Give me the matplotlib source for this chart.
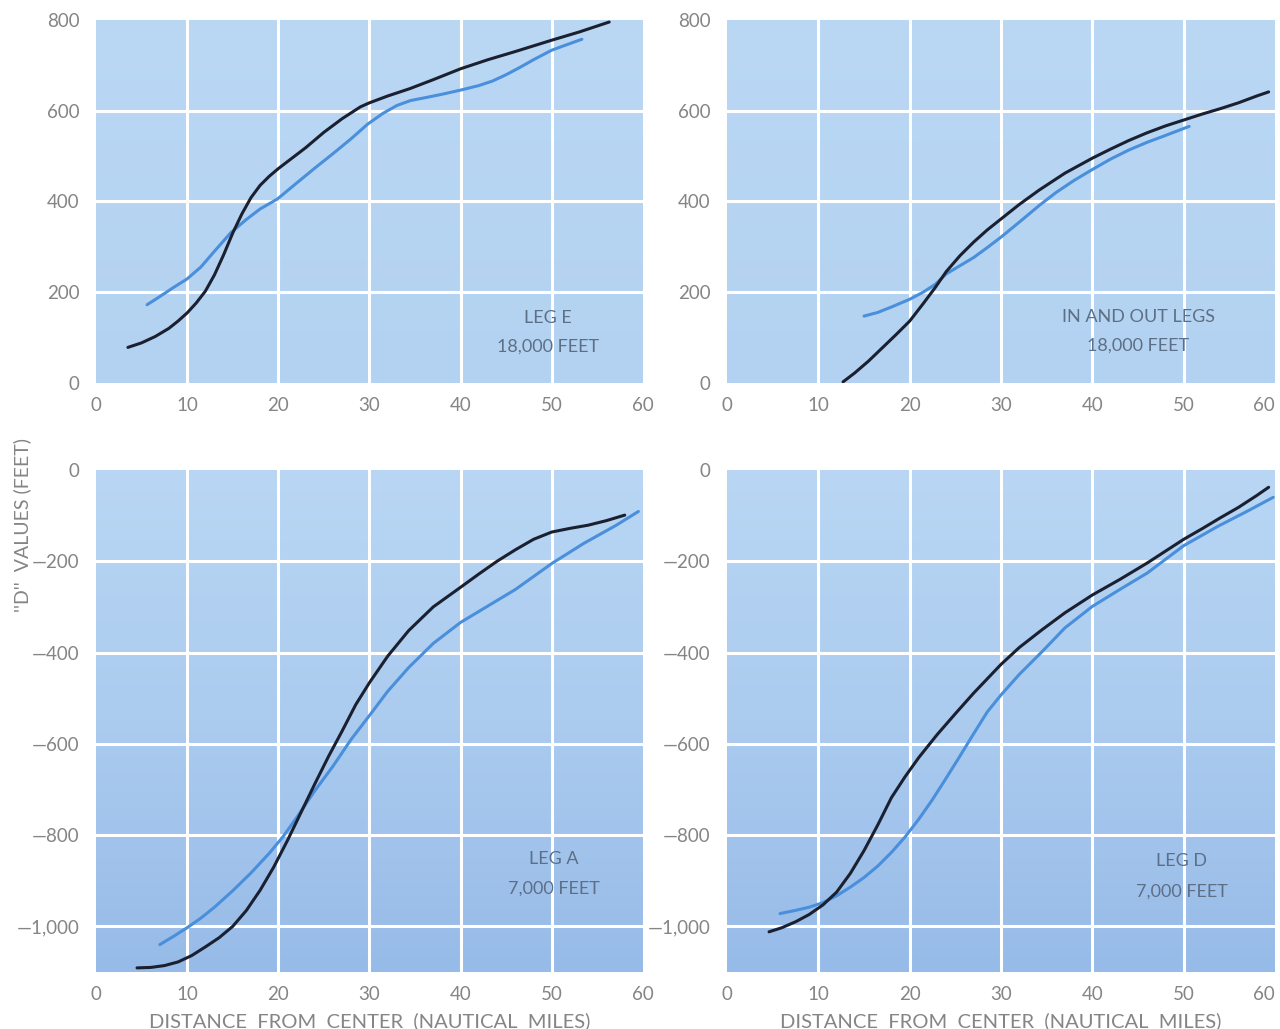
import matplotlib.pyplot as plt
import numpy as np
from matplotlib.colors import LinearSegmentedColormap

# ---- data (distance in nautical miles, D value in feet) ----
# Leg E, 18,000 ft
legE_black_x = [3.5, 5, 6.5, 8, 9, 10, 11, 12, 13, 14, 15, 16, 17, 18, 19, 20, 21.5, 23, 25, 27, 29, 30, 32, 34.4, 37, 40, 43, 46, 50, 53, 56.3]
legE_black_y = [78, 88, 102, 120, 136, 154, 176, 202, 238, 282, 330, 372, 408, 435, 455, 472, 495, 518, 552, 582, 608, 617, 632, 648, 668, 692, 712, 730, 755, 773, 795]
legE_blue_x = [5.6, 7, 8.5, 10, 11.5, 13, 14.8, 16.5, 18, 19.9, 22, 24, 26, 28, 29.8, 31.5, 33, 34.5, 36.3, 38, 40, 42, 43.5, 45, 46.5, 48, 50, 51.5, 53.3]
legE_blue_y = [172, 190, 210, 229, 255, 290, 331, 360, 383, 405, 440, 473, 505, 538, 570, 594, 611, 622, 629, 636, 645, 655, 665, 679, 695, 712, 733, 744, 757]

# In and out legs, 18,000 ft
io_black_x = [12.7, 14, 15.5, 17, 18.5, 20, 21.5, 22.8, 24, 25.5, 27, 28.5, 30, 32, 34.2, 37, 40, 42, 44, 46, 48, 50, 52, 54, 56, 58, 59.3]
io_black_y = [2, 22, 48, 77, 106, 136, 175, 210, 245, 280, 310, 337, 361, 393, 425, 462, 495, 515, 534, 551, 566, 579, 592, 604, 617, 632, 641]
io_blue_x = [15, 16.5, 18, 20, 21.5, 22.8, 24, 25.5, 27, 28.5, 30, 32, 34.2, 36, 38, 40, 42, 44, 46, 48, 50.6]
io_blue_y = [147, 155, 167, 184, 200, 217, 240, 258, 276, 298, 321, 354, 391, 419, 446, 470, 493, 513, 530, 545, 565]

# Leg A, 7,000 ft
legA_black_x = [4.5, 6, 7.5, 9, 10.5, 12, 13.5, 15, 16.5, 18, 19.5, 21, 22.5, 24, 25.5, 27, 28.5, 30, 32, 34.3, 37, 40, 42, 44, 46, 48, 50, 52, 54, 56, 58]
legA_black_y = [-1091, -1090, -1086, -1078, -1064, -1045, -1025, -1000, -965, -921, -870, -812, -750, -688, -628, -572, -514, -466, -408, -352, -300, -257, -228, -200, -175, -152, -136, -128, -121, -111, -99]
legA_blue_x = [7, 8.5, 10, 11.5, 13, 15, 17, 19, 20.5, 22, 24, 26, 28, 30, 32, 34.3, 37, 40, 43, 46, 50, 53.5, 57, 59.5]
legA_blue_y = [-1040, -1022, -1003, -982, -958, -922, -883, -840, -804, -762, -703, -649, -590, -538, -485, -433, -380, -334, -298, -262, -205, -161, -122, -91]

# Leg D, 7,000 ft
legD_black_x = [4.6, 6, 7.5, 9, 10.5, 12, 13.5, 15, 16.5, 18, 19.5, 21, 23, 25, 27, 29, 30, 32, 34.5, 37, 40, 43, 46, 48, 50, 52, 54, 56, 58, 59.3]
legD_black_y = [-1012, -1003, -990, -974, -953, -925, -884, -834, -778, -718, -672, -630, -580, -534, -489, -447, -426, -389, -350, -313, -274, -240, -204, -178, -152, -129, -105, -82, -56, -38]
legD_blue_x = [5.8, 7.5, 9, 10.5, 12, 13.5, 15, 16.5, 18, 19.5, 21, 22.5, 24, 25.5, 27, 28.5, 30, 32, 34.5, 37, 40, 43, 46, 50, 53.7, 57, 59.8]
legD_blue_y = [-972, -965, -958, -948, -933, -914, -893, -868, -838, -804, -765, -722, -675, -627, -578, -530, -493, -448, -398, -346, -299, -262, -226, -166, -124, -90, -60]

panels = [
    ("LEG E", "18,000 FEET", legE_black_x, legE_black_y, legE_blue_x, legE_blue_y),
    ("IN AND OUT LEGS", "18,000 FEET", io_black_x, io_black_y, io_blue_x, io_blue_y),
    ("LEG A", "7,000 FEET", legA_black_x, legA_black_y, legA_blue_x, legA_blue_y),
    ("LEG D", "7,000 FEET", legD_black_x, legD_black_y, legD_blue_x, legD_blue_y),
]
label_pos = [(49.6, 142, 80), (45, 144, 82), (50.2, -852, -918), (49.8, -856, -923)]

x_ticks = [0, 10, 20, 30, 40, 50, 60]
top_yticks = [0, 200, 400, 600, 800]
top_ylabels = ["0", "200", "400", "600", "800"]
bot_yticks = [0, -200, -400, -600, -800, -1000]
bot_ylabels = ["0", "\u2014200", "\u2014400", "\u2014600", "\u2014800", "\u20141,000"]

plt.rcParams['font.family'] = ['Lato', 'DejaVu Sans']
tick_color = "#858585"
black = "#1b2030"
blue = "#4a8fdb"

fig = plt.figure(figsize=(12.8, 10.29), dpi=100)
positions = [
    [0.075, 0.628, 0.4273, 0.3528],
    [0.568, 0.628, 0.4281, 0.3528],
    [0.075, 0.0554, 0.4273, 0.4879],
    [0.568, 0.0554, 0.4281, 0.4879],
]

top_cmap = LinearSegmentedColormap.from_list("bg_top", ["#bad8f4", "#b3d2f1"])
bot_cmap = LinearSegmentedColormap.from_list("bg_bot", ["#b9d7f4", "#abcbef", "#97bbe8"])

for i, (pos, pdata, lp) in enumerate(zip(positions, panels, label_pos)):
    name, alt, bx, by, ux, uy = pdata
    ax = fig.add_axes(pos)
    grad = np.linspace(0, 1, 256).reshape(-1, 1)
    ax.imshow(grad, extent=[0, 1, 0, 1], transform=ax.transAxes, aspect="auto",
              cmap=top_cmap if i < 2 else bot_cmap, origin="upper", zorder=0)
    ax.set_xlim(0, 60)
    if i < 2:
        ax.set_ylim(0, 800)
        ax.set_yticks(top_yticks)
        ax.set_yticklabels(top_ylabels)
        hlines = [200, 400, 600]
    else:
        ax.set_ylim(-1100, 0)
        ax.set_yticks(bot_yticks)
        ax.set_yticklabels(bot_ylabels)
        hlines = [-200, -400, -600, -800, -1000]
    ax.set_xticks(x_ticks)
    ax.set_xticklabels([str(t) for t in x_ticks])
    if i % 2 == 1:
        ax.get_xticklabels()[-1].set_horizontalalignment("right")
    for xv in [10, 20, 30, 40, 50]:
        ax.axvline(xv, color="white", lw=2.2, zorder=1)
    for yv in hlines:
        ax.axhline(yv, color="white", lw=2.2, zorder=1)

    ax.plot(ux, uy, color=blue, lw=2.2, solid_capstyle="round", solid_joinstyle="round", zorder=3)
    ax.plot(bx, by, color=black, lw=2.2, solid_capstyle="round", solid_joinstyle="round", zorder=4)

    ax.text(lp[0], lp[1], name, ha="center", va="center", fontsize=13, color="#5d6f86", zorder=5)
    ax.text(lp[0], lp[2], alt, ha="center", va="center", fontsize=13, color="#5d6f86", zorder=5)

    for s in ax.spines.values():
        s.set_visible(False)
    ax.tick_params(length=0, labelsize=13.5, labelcolor=tick_color, pad=12)
    ax.tick_params(axis="x", pad=10)
    if i >= 2:
        ax.set_xlabel("DISTANCE  FROM  CENTER  (NAUTICAL  MILES)", fontsize=14.5,
                      color=tick_color, labelpad=7)

fig.text(0.017, 0.49, "''D''  VALUES (FEET)", rotation=90, ha="center", va="center",
         fontsize=14, color=tick_color)

fig.savefig("out.png", dpi=100, facecolor="white")
